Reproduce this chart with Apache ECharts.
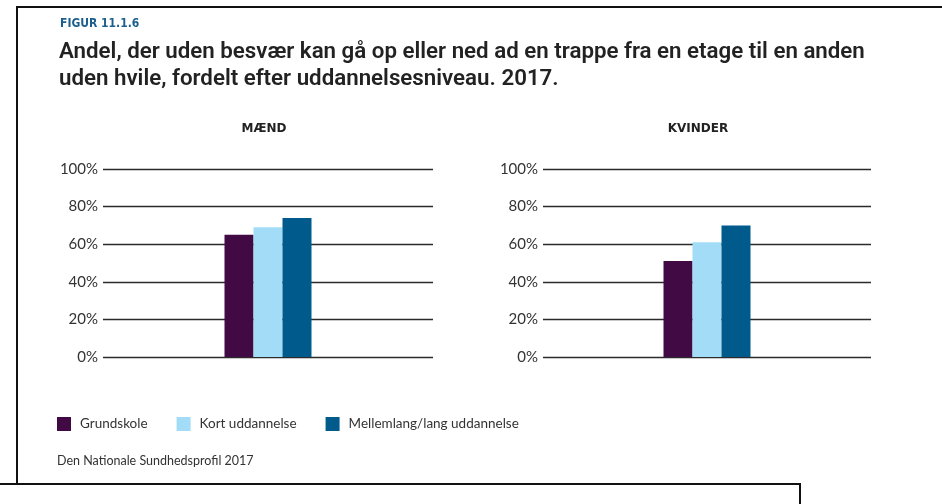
<!DOCTYPE html>
<html>
<head>
<meta charset="utf-8">
<script src="https://cdn.jsdelivr.net/npm/echarts@6/dist/echarts.min.js"></script>
<style>
  html, body { margin: 0; padding: 0; background: #fff; }
  #chart { width: 942px; height: 504px; }
</style>
</head>
<body>
<div id="chart"></div>
<script>
// uddannelsesniveau
var categories = ["Grundskole", "Kort uddannelse", "Mellemlang/lang uddannelse"];
var colors = ["#420a45", "#a2dcf7", "#005b8c"];
// andel i procent
var maend = [65, 69, 74];
var kvinder = [51, 61, 70];
var yTicks = [0, 20, 40, 60, 80, 100];

var chart = echarts.init(document.getElementById("chart"));

var font = "Lato, 'Noto Sans', sans-serif";

function yAxis(idx) {
  return {
    gridIndex: idx,
    type: "value",
    min: yTicks[0],
    max: yTicks[yTicks.length - 1],
    interval: yTicks[1] - yTicks[0],
    axisLine: { show: false },
    axisTick: { show: false },
    axisLabel: { formatter: "{value}%", color: "#333", fontSize: 15, fontFamily: font, margin: 5 },
    splitLine: { lineStyle: { color: "#2b2b2b", width: 1.3 } }
  };
}

function xAxis(idx) {
  return {
    gridIndex: idx,
    type: "category",
    data: [""],
    axisLine: { show: false },
    axisTick: { show: false },
    axisLabel: { show: false }
  };
}

var series = [];
[maend, kvinder].forEach(function (vals, g) {
  categories.forEach(function (name, i) {
    series.push({
      name: name,
      type: "bar",
      xAxisIndex: g,
      yAxisIndex: g,
      data: [vals[i]],
      barWidth: 29,
      barGap: "0%",
      itemStyle: { color: colors[i] }
    });
  });
});

var option = {
  animation: false,
  color: colors,
  title: [
    { text: "FIGUR 11.1.6", left: 60, top: 18, padding: 0,
      textStyle: { fontSize: 12, fontWeight: "bold", color: "#1d5f8c", fontFamily: "'Liberation Sans Narrow', 'DejaVu Sans Condensed', Roboto, sans-serif" } },
    { text: "Andel, der uden besvær kan gå op eller ned ad en trappe fra en etage til en anden\nuden hvile, fordelt efter uddannelsesniveau. 2017.", left: 59, top: 39, padding: 0,
      textStyle: { fontSize: 22.3, fontWeight: 600, color: "#222", lineHeight: 27, fontFamily: "Roboto, sans-serif" } },
    { text: "MÆND", left: 264, top: 123, textAlign: "center", padding: 0,
      textStyle: { fontSize: 12, fontWeight: "bold", color: "#222", fontFamily: "'DejaVu Sans', sans-serif" } },
    { text: "KVINDER", left: 698, top: 123, textAlign: "center", padding: 0,
      textStyle: { fontSize: 12, fontWeight: "bold", color: "#222", fontFamily: "'DejaVu Sans', sans-serif" } },
    { text: "Den Nationale Sundhedsprofil 2017", left: 57, top: 454, padding: 0,
      textStyle: { fontSize: 12.5, fontWeight: "normal", color: "#333", fontFamily: font } }
  ],
  legend: {
    data: categories,
    left: 52,
    top: 412,
    icon: "rect",
    itemWidth: 14,
    itemHeight: 14,
    itemGap: 29,
    textStyle: { fontSize: 13.5, color: "#333", fontFamily: font, padding: [0, 0, 0, 4] }
  },
  grid: [
    { left: 103, top: 169, width: 330, height: 188 },
    { left: 543, top: 169, width: 328, height: 188 }
  ],
  xAxis: [xAxis(0), xAxis(1)],
  yAxis: [yAxis(0), yAxis(1)],
  series: series,
  graphic: [
    { type: "polyline", shape: { points: [[17, 484], [17, 7], [942, 7]] }, style: { stroke: "#111", lineWidth: 2, fill: null } },
    { type: "polyline", shape: { points: [[0, 484], [800, 484], [800, 504]] }, style: { stroke: "#111", lineWidth: 2, fill: null } }
  ]
};

chart.setOption(option);
</script>
</body>
</html>
